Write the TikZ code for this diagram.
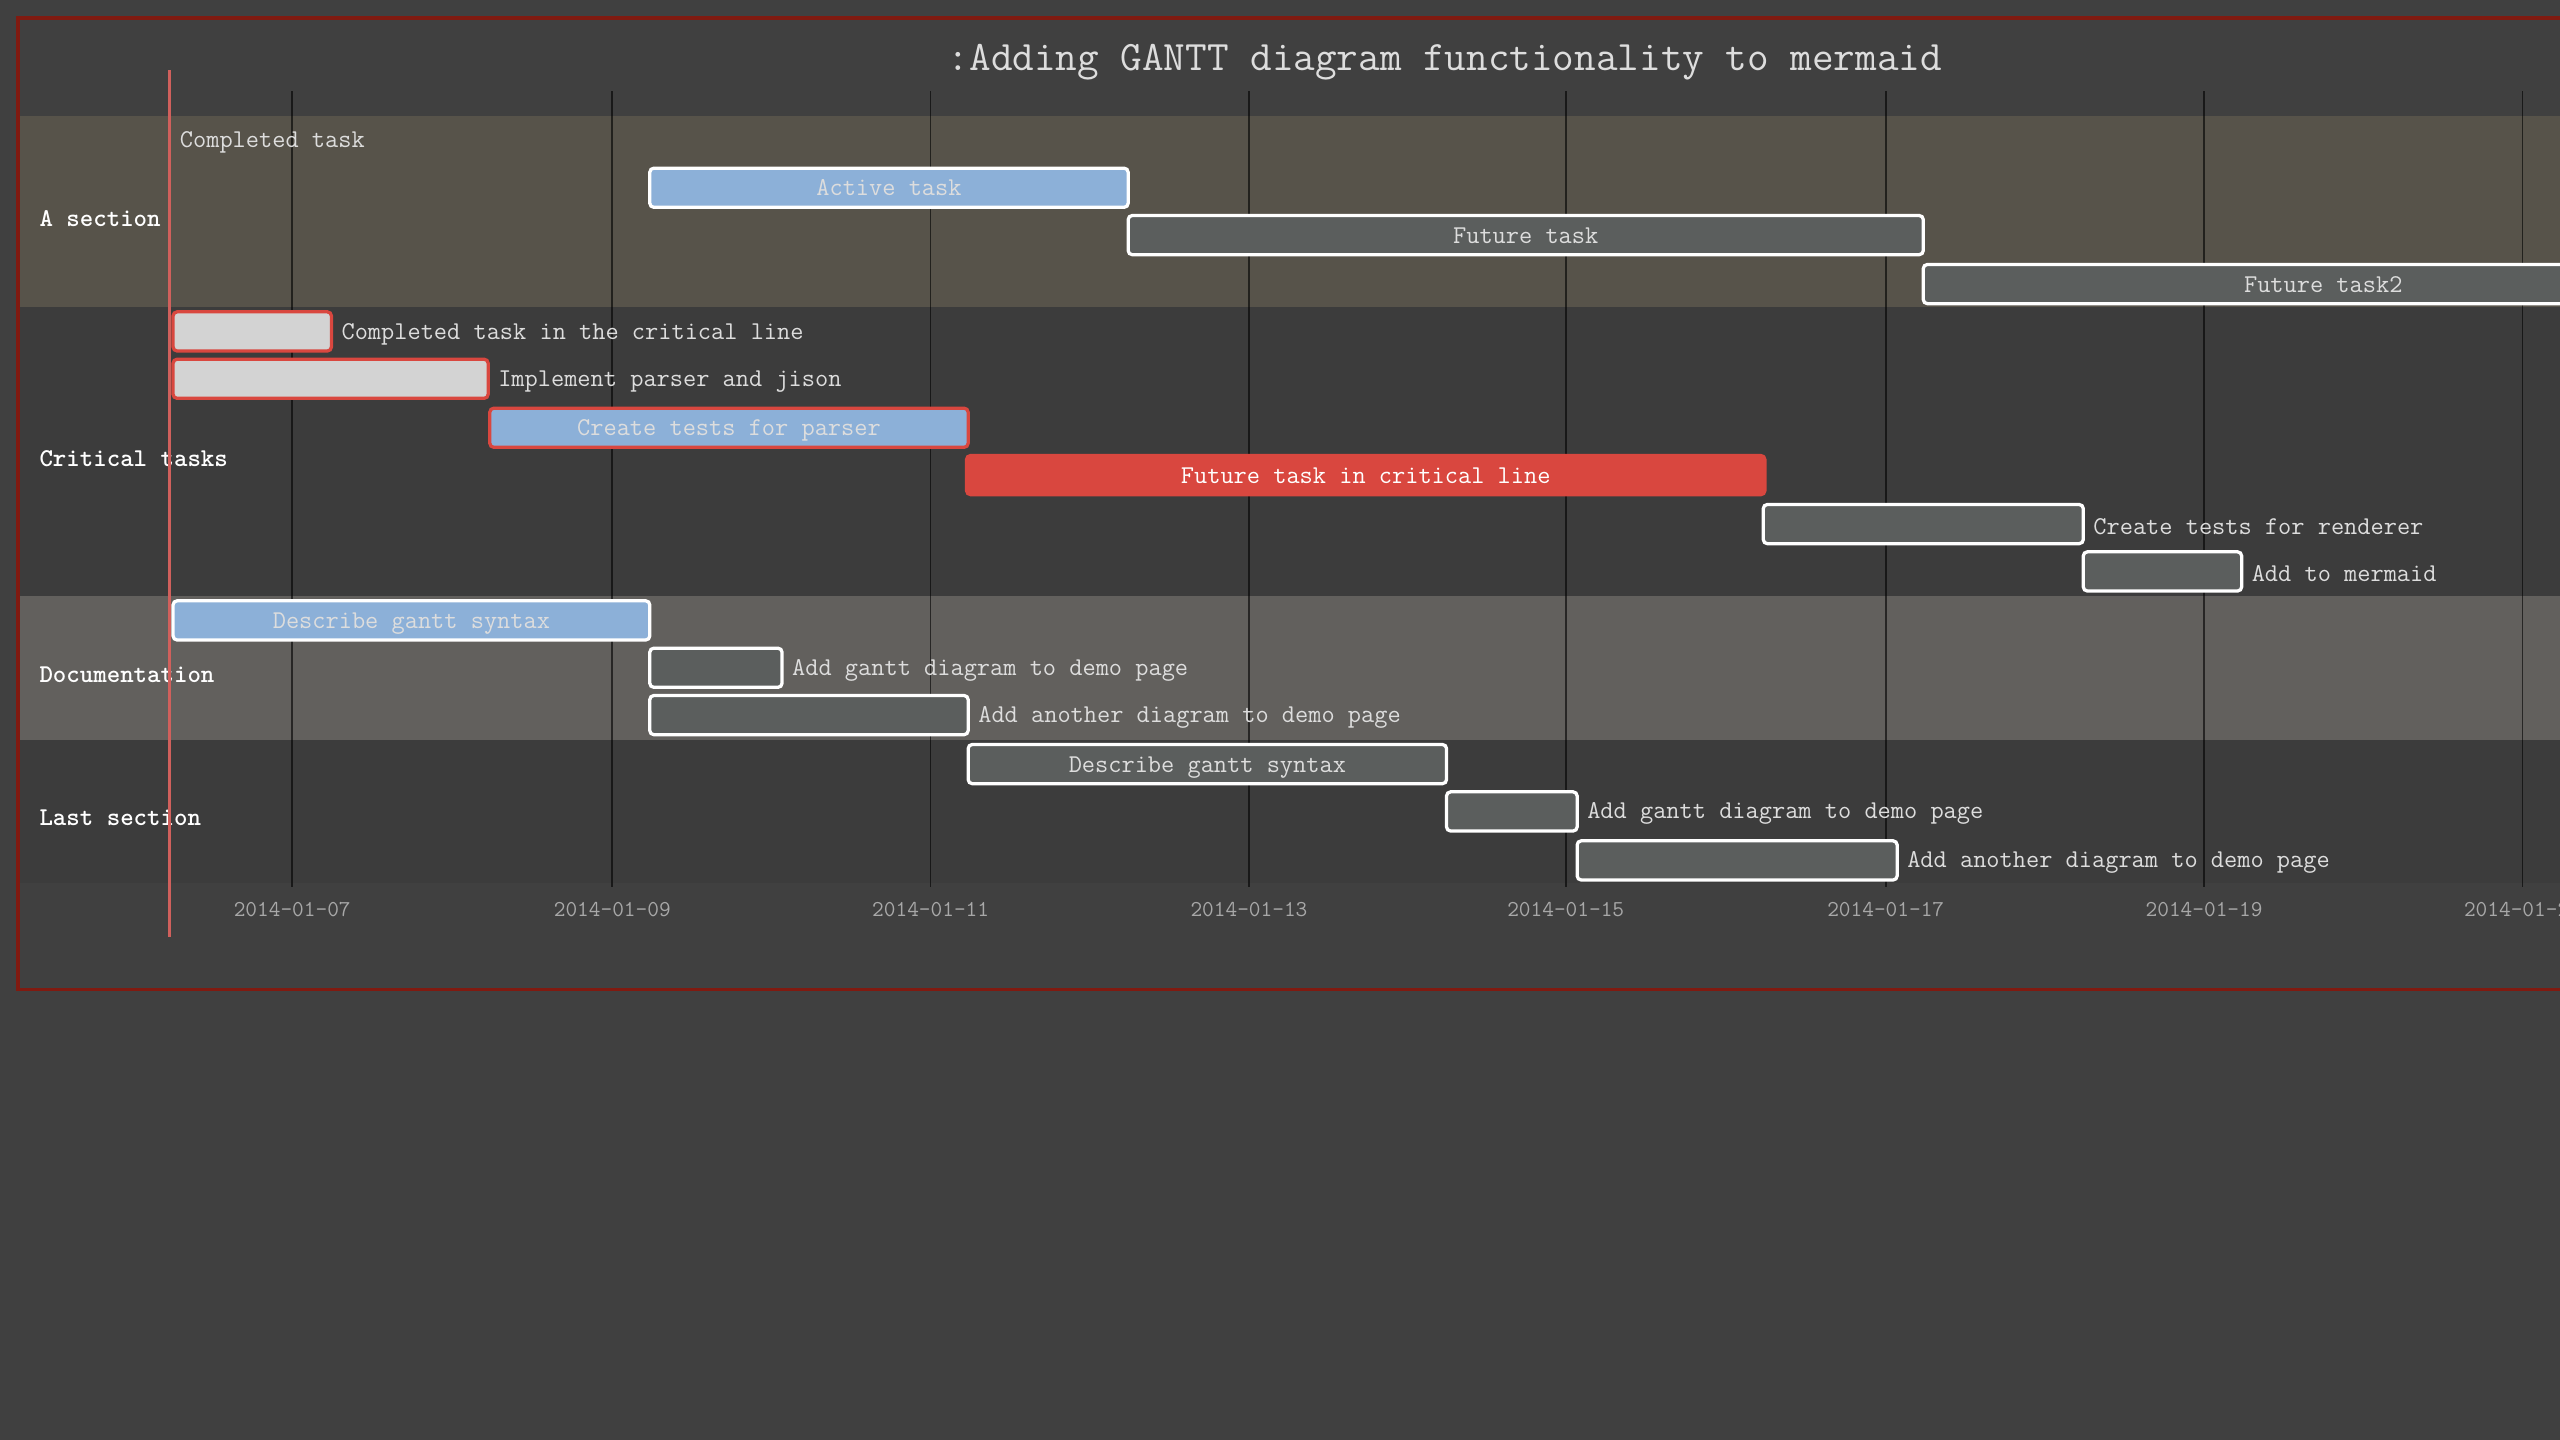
\documentclass[tikz,border=0pt]{standalone}
\usepackage{fontspec}
\usepackage{xcolor}
\usepackage{tikz}
\usetikzlibrary{positioning}
\definecolor{bgGray}{HTML}{404040}
\definecolor{rowDark}{HTML}{3C3C3C}
\definecolor{rowTan}{HTML}{57534A}
\definecolor{rowGray}{HTML}{62605D}
\definecolor{frameRed}{HTML}{801A10}
\definecolor{todayRed}{HTML}{D0605C}
\definecolor{activeBlue}{HTML}{8CB0D8}
\definecolor{futureGray}{HTML}{5B5E5D}
\definecolor{doneGray}{HTML}{D3D3D3}
\definecolor{critRed}{HTML}{D9473F}
\definecolor{labelGray}{HTML}{DDDDDD}
\definecolor{tickGray}{HTML}{A8A8A8}
\tikzset{
  bar/.style={draw=white, line width=2pt, rounded corners=2.5pt, minimum height=24pt, inner sep=0pt, text height=10pt, text depth=0pt, anchor=west, text=labelGray, font=\ttfamily\fontsize{15.7}{16}\selectfont},
  activebar/.style={bar, fill=activeBlue},
  futurebar/.style={bar, fill=futureGray},
  donebar/.style={bar, fill=doneGray, draw=critRed},
  critactive/.style={bar, fill=activeBlue, draw=critRed},
  critbar/.style={bar, fill=critRed, draw=critRed, text=white},
  tasklabel/.style={anchor=west, inner sep=0pt, yshift=-1.5pt, text=labelGray, font=\ttfamily\fontsize{15.7}{16}\selectfont},
  seclabel/.style={anchor=west, inner sep=0pt, yshift=-1pt, text=white, font=\ttfamily\bfseries\fontsize{15.7}{16}\selectfont},
  ticklabel/.style={inner sep=0pt, yshift=-1pt, text=tickGray, font=\ttfamily\fontsize{13.9}{15}\selectfont},
  gridline/.style={draw=black, draw opacity=0.6, line width=1pt}
}

\begin{document}
\begin{tikzpicture}[x=1pt, y=-1pt]
        \useasboundingbox (0,0) rectangle (1568,882);
        \clip (0,0) rectangle (1568,882);
        \fill[bgGray] (0,0) rectangle (1568,882);

        % section rows
        \fill[rowTan] (12,71) rectangle (1620,188);
        \fill[rowDark] (12,188) rectangle (1620,365);
        \fill[rowGray] (12,365) rectangle (1620,453);
        \fill[rowDark] (12,453) rectangle (1620,541);

        % grid and axis
        \draw[gridline] (179,56) -- (179,543);
        \draw[gridline] (375,56) -- (375,543);
        \draw[gridline] (570,56) -- (570,543);
        \draw[gridline] (765,56) -- (765,543);
        \draw[gridline] (959,56) -- (959,543);
        \draw[gridline] (1155,56) -- (1155,543);
        \draw[gridline] (1350,56) -- (1350,543);
        \draw[gridline] (1545,56) -- (1545,543);
        \node[ticklabel] (t07) at (179,556) {2014-01-07};
        \node[ticklabel] (t09) at (375,556) {2014-01-09};
        \node[ticklabel] (t11) at (570,556) {2014-01-11};
        \node[ticklabel] (t13) at (765,556) {2014-01-13};
        \node[ticklabel] (t15) at (959,556) {2014-01-15};
        \node[ticklabel] (t17) at (1155,556) {2014-01-17};
        \node[ticklabel] (t19) at (1350,556) {2014-01-19};
        \node[ticklabel] (t21) at (1545,556) {2014-01-21};

        % title and frame
        \node[text=labelGray, font=\ttfamily\fontsize{25.7}{27}\selectfont] (title) at (885,38) {:Adding GANTT diagram functionality to mermaid};
        \draw[frameRed, line width=2pt] (11,11) rectangle (1620,606);

        % section names
        \node[seclabel] (secA) at (24,133) {A section};
        \node[seclabel] (secCrit) at (24,280) {Critical tasks};
        \node[seclabel] (secDoc) at (24,412) {Documentation};
        \node[seclabel] (secLast) at (24,500) {Last section};

        % A section
        \node[tasklabel] (a1) at (110,86) {Completed task};
        \node[activebar, minimum width=293pt] (a2) at (397,115) {Active task};
        \node[futurebar, minimum width=487pt] (a3) at (690,144) {Future task};
        \node[futurebar, minimum width=490pt] (a4) at (1177,174) {Future task2};

        % critical tasks
        \node[donebar, minimum width=97pt] (c1) at (105,203) {};
        \node[tasklabel, right=5pt of c1] (c1l) {Completed task in the critical line};
        \node[donebar, minimum width=193pt] (c2) at (105,232) {};
        \node[tasklabel, right=5pt of c2] (c2l) {Implement parser and jison};
        \node[critactive, minimum width=293pt] (c3) at (299,262) {Create tests for parser};
        \node[critbar, minimum width=489pt] (c4) at (591,291) {Future task in critical line};
        \node[futurebar, minimum width=196pt] (c5) at (1079,321) {};
        \node[tasklabel, right=5pt of c5] (c5l) {Create tests for renderer};
        \node[futurebar, minimum width=97pt] (c6) at (1275,350) {};
        \node[tasklabel, right=5pt of c6] (c6l) {Add to mermaid};

        % documentation
        \node[activebar, minimum width=292pt] (d1) at (105,380) {Describe gantt syntax};
        \node[futurebar, minimum width=81pt] (d2) at (397,409) {};
        \node[tasklabel, right=5pt of d2] (d2l) {Add gantt diagram to demo page};
        \node[futurebar, minimum width=195pt] (d3) at (397,438) {};
        \node[tasklabel, right=5pt of d3] (d3l) {Add another diagram to demo page};

        % last section
        \node[futurebar, minimum width=293pt] (l1) at (592,468) {Describe gantt syntax};
        \node[futurebar, minimum width=80pt] (l2) at (885,497) {};
        \node[tasklabel, right=5pt of l2] (l2l) {Add gantt diagram to demo page};
        \node[futurebar, minimum width=196pt] (l3) at (965,527) {};
        \node[tasklabel, right=5pt of l3] (l3l) {Add another diagram to demo page};

        % today marker
        \coordinate (todayTop) at (104,43);
        \coordinate (todayBot) at (104,574);
        \draw[todayRed, line width=2pt] (todayTop) -- (todayBot);
    \end{tikzpicture}
\end{document}
